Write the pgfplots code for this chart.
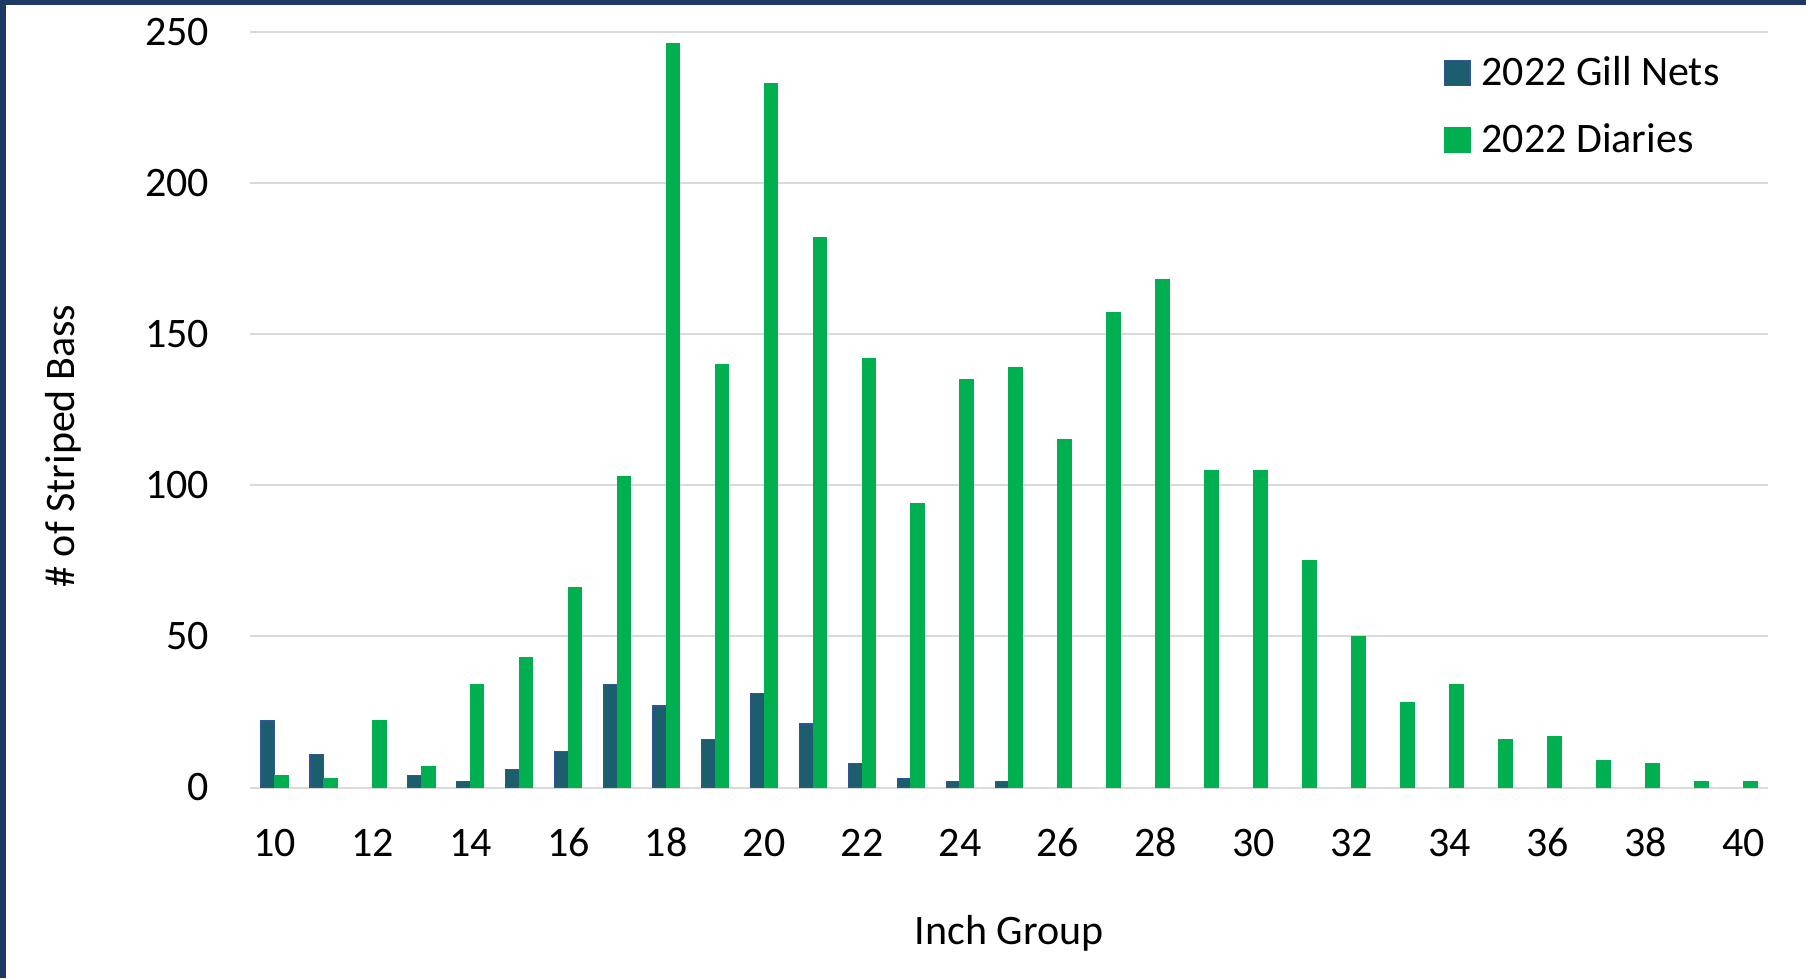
\documentclass[border=0pt]{standalone}
\usepackage{fontspec}
\setmainfont{Carlito}
\usepackage{xcolor}
\usepackage{pgfplots}
\pgfplotsset{compat=1.18}
\definecolor{frame}{RGB}{32,56,100}
\definecolor{gill}{RGB}{28,93,110}
\definecolor{gilledge}{RGB}{47,85,151}
\definecolor{diary}{RGB}{0,176,80}
\definecolor{gridc}{RGB}{217,217,217}

\begin{document}
\begin{tikzpicture}
% page: 1806 x 978 px at 0.25pt per px
\fill[white] (0,0) rectangle (451.5pt,244.5pt);
\fill[frame] (0,0) rectangle (1.5pt,244.5pt);
\fill[frame] (0,243.2pt) rectangle (451.5pt,244.5pt);
\begin{axis}[
  at={(62.5pt,47.625pt)}, anchor=south west,
  scale only axis, width=379.5pt, height=188.875pt,
  font=\fontsize{10.5}{12.6}\selectfont,
  /pgf/number format/assume math mode=true,
  ybar,
  xmin=9.5, xmax=40.5, ymin=0, ymax=250,
  xtick={10,12,...,40}, ytick={0,50,...,250},
  major tick length=0pt,
  axis line style={draw=none},
  ymajorgrids, grid style={draw=gridc, line width=0.5pt},
  xticklabel style={anchor=base, yshift=-17.2pt},
  yticklabel style={anchor=east, inner sep=0pt, xshift=-10pt},
  xlabel={Inch Group},
  xlabel style={at={(rel axis cs:0.5,-0.1925)}, anchor=center},
  ylabel={\# of Striped Bass},
  ylabel style={at={(rel axis cs:-0.1232,0.452)}, anchor=center},
  legend style={at={(rel axis cs:0.7859,0.9669)}, anchor=north west,
    draw=none, fill=none, inner sep=0pt, row sep=7.75pt,
    nodes={inner sep=0pt, text height=7pt, text depth=2pt, anchor=base west},
    /tikz/column sep=2.75pt},
  legend cell align=left,
  legend image code/.code={\fill[#1] (0pt,0pt) rectangle (6.4pt,6.4pt);},
]
\addplot[fill=gill, draw=gilledge, line width=0.3pt, bar width=0.276, bar shift=-0.138] coordinates {
(10,22) (11,11) (13,4) (14,2) (15,6) (16,12) (17,34) (18,27) (19,16) (20,31)
(21,21) (22,8) (23,3) (24,2) (25,2)};
\addlegendentry{2022 Gill Nets}
\addplot[fill=diary, draw=diary, line width=0.3pt, bar width=0.276, bar shift=0.138] coordinates {
(10,4) (11,3) (12,22) (13,7) (14,34) (15,43) (16,66) (17,103) (18,246) (19,140)
(20,233) (21,182) (22,142) (23,94) (24,135) (25,139) (26,115) (27,157) (28,168)
(29,105) (30,105) (31,75) (32,50) (33,28) (34,34) (35,16) (36,17) (37,9) (38,8)
(39,2) (40,2)};
\addlegendentry{2022 Diaries}
\end{axis}
\pgfresetboundingbox
\useasboundingbox (0,0) rectangle (451.5pt,244.5pt);
\end{tikzpicture}
\end{document}
